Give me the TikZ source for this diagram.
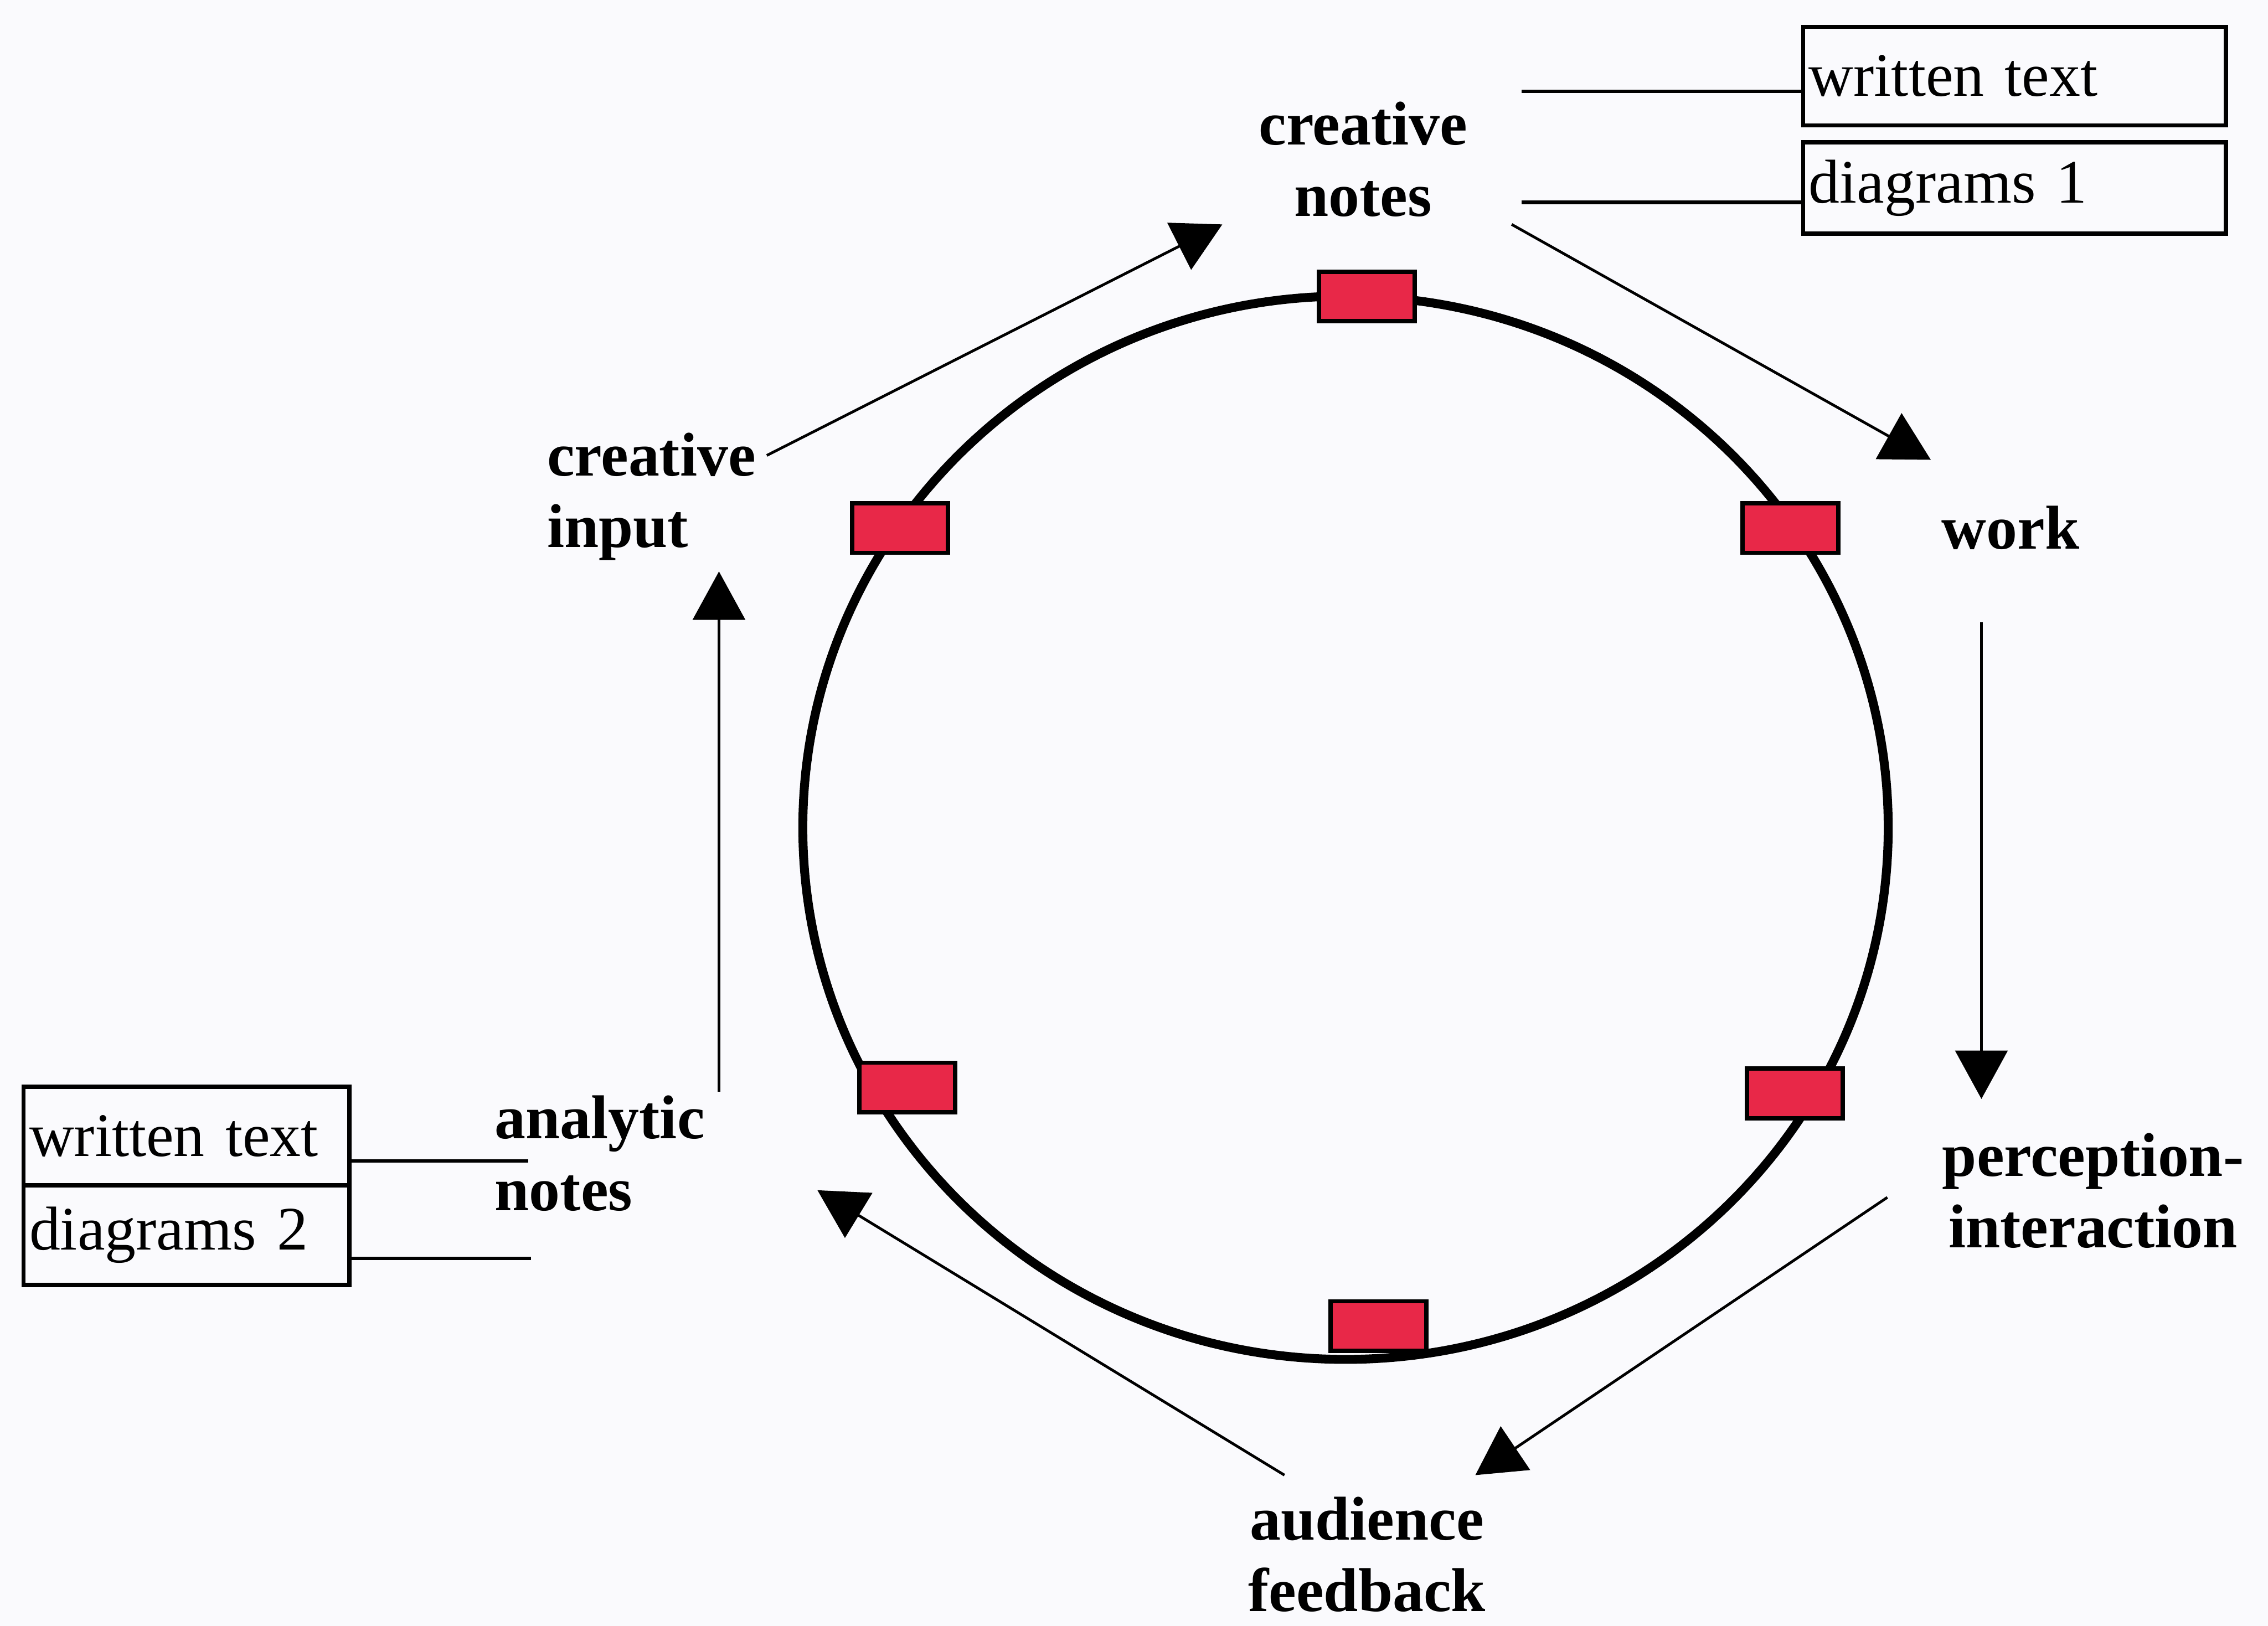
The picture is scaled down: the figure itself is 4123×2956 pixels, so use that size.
\documentclass[tikz,border=0pt]{standalone}
\usepackage{fontspec}
\setmainfont{Liberation Serif}
\usetikzlibrary{arrows.meta}
\definecolor{bg}{RGB}{250,250,253}
\definecolor{redbox}{RGB}{232,40,72}
\begin{document}
\begin{tikzpicture}[x=0.01cm,y=-0.01cm,
  lbl/.style={font=\fontsize{32}{37}\selectfont\bfseries, align=center, inner sep=0pt},
  lbll/.style={lbl, align=left},
  tbox/.style={draw, line width=2.2pt, font=\fontsize{32}{37}\selectfont, inner xsep=3pt, inner ysep=0pt, anchor=north west, align=left},
  marker/.style={draw, line width=2.2pt, fill=redbox, minimum width=1.74cm, minimum height=0.9cm, inner sep=0pt},
  conn/.style={line width=1.4pt, -{Triangle[length=25pt,width=27pt]}},
  link/.style={line width=1.8pt},
  ring/.style={line width=4.6pt}
]
\fill[bg] (0,0) rectangle (4123,2956);
\useasboundingbox (0,0) rectangle (4123,2956);

% ring
\draw[ring] (2446,1505) ellipse [x radius=9.86cm, y radius=9.66cm];

% markers on ring
\node[marker] (m1) at (2485,539) {};
\node[marker] (m2) at (3255,960) {};
\node[marker] (m3) at (3263,1988) {};
\node[marker] (m4) at (2506,2411) {};
\node[marker] (m5) at (1649,1977) {};
\node[marker] (m6) at (1636,960) {};

% labels
\node[lbl] (cn) at (2478,290) {creative\\notes};
\node[lbl] (work) at (3655,960) {work};
\node[lbl] (pi) at (3805,2165) {perception-\\interaction};
\node[lbl] (af) at (2485,2826) {audience\\feedback};
\node[lbll, anchor=west] (an) at (899,2097) {analytic\\notes};
\node[lbll, anchor=west] (ci) at (994,903) {creative\\input};

% boxes
\node[tbox, text width=7.47cm, minimum height=1.79cm] (wt1) at (3274,45) {written text};
\node[tbox, text width=7.47cm, minimum height=1.66cm] (dg1) at (3274,255) {diagrams 1};
\node[tbox, text width=5.71cm, minimum height=1.79cm] (wt2) at (39,1972) {written text};
\node[tbox, text width=5.71cm, minimum height=1.81cm] (dg2) at (39,2151) {diagrams 2};

% links to boxes
\coordinate (l1) at (2766,166);
\coordinate (l2) at (2766,368);
\coordinate (l3) at (960,2111);
\coordinate (l4) at (965,2288);
\draw[link] (l1) -- (l1 -| wt1.west);
\draw[link] (l2) -- (l2 -| dg1.west);
\draw[link] (l3 -| wt2.east) -- (l3);
\draw[link] (l4 -| dg2.east) -- (l4);

% cycle arrows
\coordinate (a1s) at (1394,828);
\coordinate (a1e) at (2222,408);
\coordinate (a2s) at (2748,408);
\coordinate (a2e) at (3510,836);
\coordinate (a3s) at (3602,1131);
\coordinate (a3e) at (3602,1998);
\coordinate (a4s) at (3431,2177);
\coordinate (a4e) at (2682,2682);
\coordinate (a5s) at (2335,2682);
\coordinate (a5e) at (1486,2164);
\coordinate (a6s) at (1307,1985);
\coordinate (a6e) at (1307,1039);
\draw[conn] (a1s) -- (a1e);
\draw[conn] (a2s) -- (a2e);
\draw[conn] (a3s) -- (a3e);
\draw[conn] (a4s) -- (a4e);
\draw[conn] (a5s) -- (a5e);
\draw[conn] (a6s) -- (a6e);
\end{tikzpicture}
\end{document}
